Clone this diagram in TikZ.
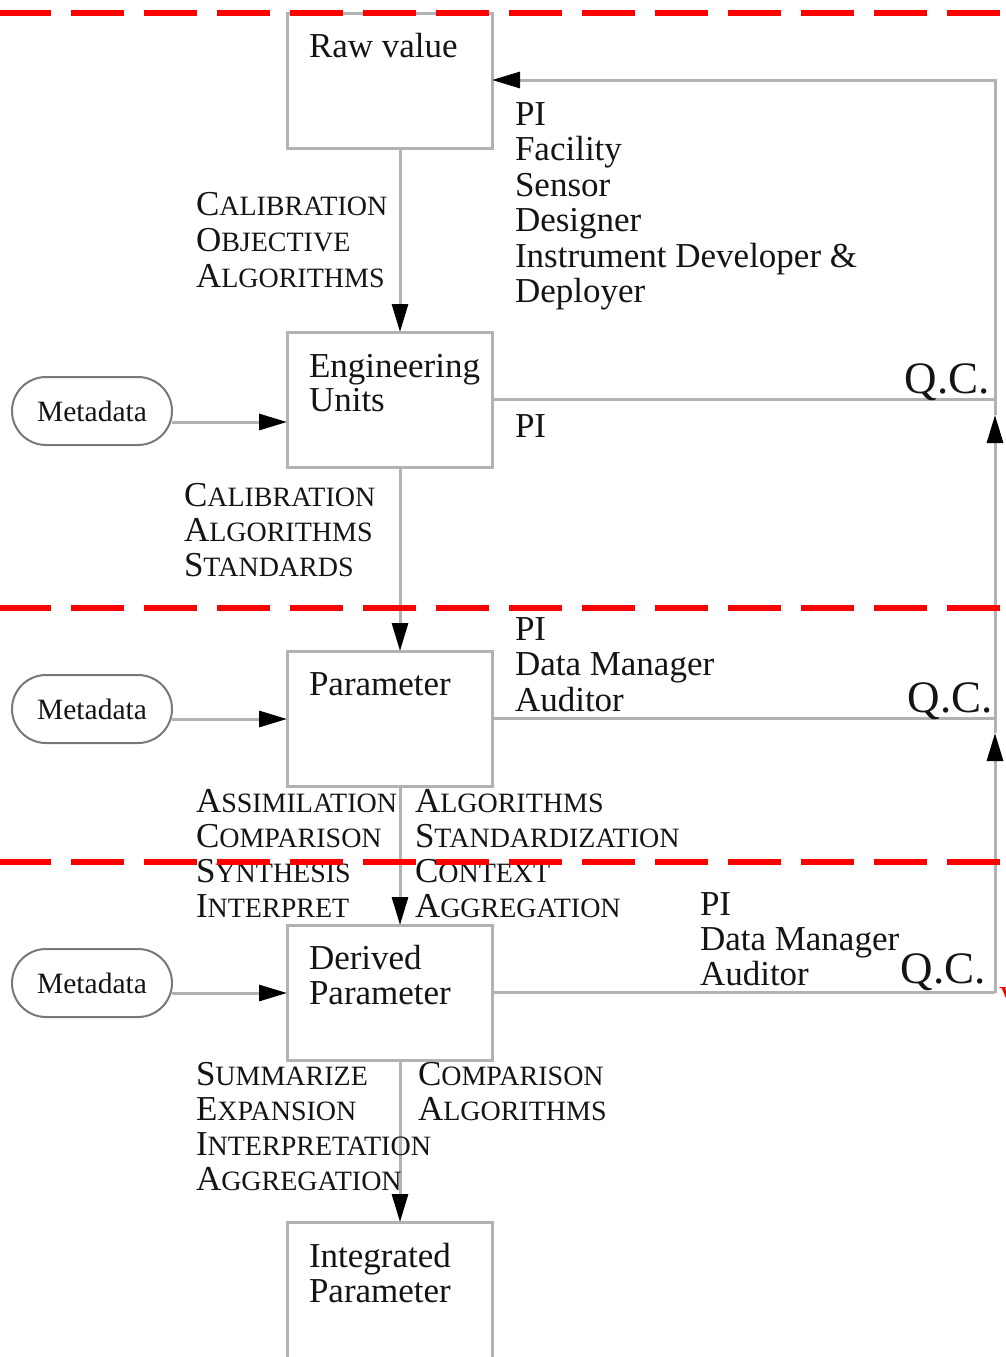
\documentclass[tikz,border=0pt]{standalone}
\usepackage{fontspec}
\setmainfont{Liberation Serif}
\usetikzlibrary{arrows.meta,calc}
\definecolor{linegray}{RGB}{178,178,178}
\definecolor{ovalgray}{RGB}{120,120,120}
\definecolor{inkblack}{RGB}{20,20,20}
\newcommand\scw[2]{{\fontsize{35}{35}\selectfont #1}{\fontsize{28}{28}\selectfont #2}}
\begin{document}
\begin{tikzpicture}[x=1pt,y=-1pt,
  conn/.style={draw=linegray,line width=3pt},
  arr/.style={-{Triangle[length=28pt,width=16pt,color=black]}},
  box/.style={draw=linegray,line width=3pt,minimum width=205pt,minimum height=135pt,
    anchor=north west,inner sep=0pt,outer sep=0pt},
  meta/.style={draw=ovalgray,line width=2pt,rounded corners=34pt,minimum width=160pt,
    minimum height=68pt,inner sep=0pt,outer sep=0pt,font=\fontsize{29.5}{30}\selectfont,text=inkblack},
  txt/.style={anchor=base west,inner sep=0pt,outer sep=0pt,align=left,text=inkblack,
    font=\fontsize{35}{35.5}\selectfont},
  qc/.style={anchor=base east,inner sep=0pt,outer sep=0pt,text=inkblack,
    font=\fontsize{45}{45}\selectfont},
  redline/.style={draw=red,line width=6pt,dash pattern=on 53pt off 20pt}]
\useasboundingbox (0,0) rectangle (1006,1357);
\clip (0,0) rectangle (1006,1357);

% boxes
\node[box] (raw) at (287,13) {};
\node[box] (eng) at (287,332) {};
\node[box] (par) at (287,651) {};
\node[box] (der) at (287,925) {};
\node[box,minimum height=200pt] (int) at (287,1222) {};

% metadata
\node[meta] (meta1) at (92,411) {Metadata};
\node[meta] (meta2) at (92,709) {Metadata};
\node[meta] (meta3) at (92,983) {Metadata};

% helper coordinates
\coordinate (spine) at (400,0);
\coordinate (rail) at (995,0);
\coordinate (railtop) at (995,80);
\coordinate (tip1) at (995,415);
\coordinate (tip2) at (995,733);

% vertical flow
\draw[conn,arr] (raw.south -| spine) -- (eng.north -| spine);
\draw[conn,arr] (eng.south -| spine) -- (par.north -| spine);
\draw[conn,arr] (par.south -| spine) -- (der.north -| spine);
\draw[conn,arr] (der.south -| spine) -- (int.north -| spine);

% metadata arrows
\draw[conn,arr] ([yshift=-11pt]meta1.east) -- ([yshift=-11pt]meta1.east -| eng.west);
\draw[conn,arr] ([yshift=-10pt]meta2.east) -- ([yshift=-10pt]meta2.east -| par.west);
\draw[conn,arr] ([yshift=-10pt]meta3.east) -- ([yshift=-10pt]meta3.east -| der.west);

% QC lines and rail
\draw[conn] (eng.east) -- (eng.east -| rail);
\draw[conn] (par.east) -- (par.east -| rail);
\draw[conn] (der.east) -- (der.east -| rail);
\draw[conn,arr] (der.east -| rail) -- (tip2);
\draw[conn,arr] (tip2) -- (tip1);
\draw[conn,arr] (tip1) -- (railtop) -- (raw.east |- railtop);

% box texts (base anchor = baseline of last line)
\node[txt] (rawlab) at (309,57) {Raw value};
\node[txt,font=\fontsize{35}{34.5}\selectfont] (englab) at (309,411.5) {Engineering\\Units};
\node[txt] (parlab) at (309,695) {Parameter};
\node[txt] (derlab) at (309,1004.5) {Derived\\Parameter};
\node[txt] (intlab) at (309,1302.5) {Integrated\\Parameter};

% role labels
\node[txt] (roles1) at (515,302.5) {PI\\Facility\\Sensor\\Designer\\Instrument Developer \&\\Deployer};
\node[txt] (roles2) at (515,437) {PI};
\node[txt] (roles3) at (515,711) {PI\\Data Manager\\Auditor};
\node[txt,font=\fontsize{35}{35}\selectfont] (roles4) at (700,985) {PI\\Data Manager\\Auditor};

% QC labels
\node[qc] (qc1) at (990,393) {Q.C.};
\node[qc] (qc2) at (993,712) {Q.C.};
\node[qc] (qc3) at (986,983) {Q.C.};

% process labels
\node[txt,font=\fontsize{35}{36}\selectfont] (lab1) at (196,287) {\scw{C}{ALIBRATION}\\\scw{O}{BJECTIVE}\\\scw{A}{LGORITHMS}};
\node[txt,font=\fontsize{35}{35}\selectfont] (lab2) at (184,576) {\scw{C}{ALIBRATION}\\\scw{A}{LGORITHMS}\\\scw{S}{TANDARDS}};
\node[txt,font=\fontsize{35}{35}\selectfont] (lab3) at (196,917) {\scw{A}{SSIMILATION}\\\scw{C}{OMPARISON}\\\scw{S}{YNTHESIS}\\\scw{I}{NTERPRET}};
\node[txt,font=\fontsize{35}{35}\selectfont] (lab4) at (415,917) {\scw{A}{LGORITHMS}\\\scw{S}{TANDARDIZATION}\\\scw{C}{ONTEXT}\\\scw{A}{GGREGATION}};
\node[txt,font=\fontsize{35}{35}\selectfont] (lab5) at (196,1190) {\scw{S}{UMMARIZE}\\\scw{E}{XPANSION}\\\scw{I}{NTERPRETATION}\\\scw{A}{GGREGATION}};
\node[txt,font=\fontsize{35}{35}\selectfont] (lab6) at (418,1120) {\scw{C}{OMPARISON}\\\scw{A}{LGORITHMS}};

% red dashed separators
\draw[redline] (-2,13) -- (1012,13);
\draw[redline] (-2,608) -- (1012,608);
\draw[redline] (-2,862) -- (1012,862);

% cut-off red mark at right edge
\node[anchor=base west,inner sep=0pt,text=red,font=\fontsize{32}{32}\selectfont] (redmark) at (999,1008) {V};
\end{tikzpicture}
\end{document}
